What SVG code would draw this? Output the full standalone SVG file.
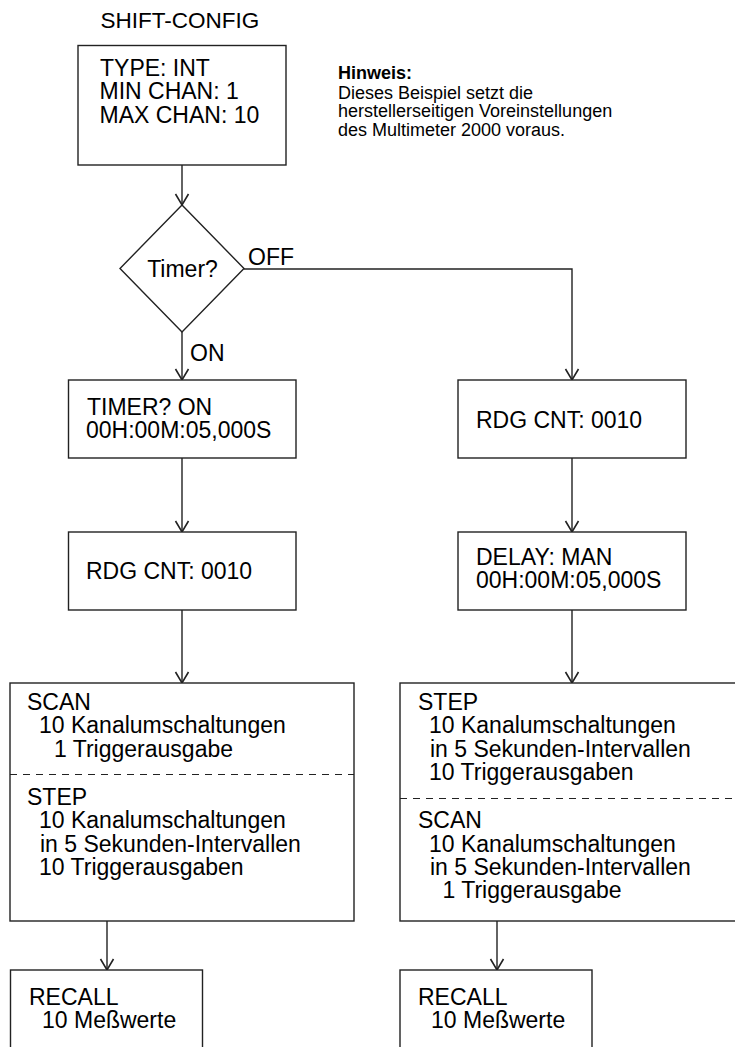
<svg xmlns="http://www.w3.org/2000/svg" width="735" height="1047" viewBox="0 0 735 1047">
<style>
text{font-family:"Liberation Sans",Arial,Helvetica,sans-serif;font-size:23px;fill:#000}
.sm{font-size:18px}
.b{font-weight:bold}
.box{fill:#fff;stroke:#222;stroke-width:1.4}
.ln{fill:none;stroke:#222;stroke-width:1.4}
.dash{fill:none;stroke:#222;stroke-width:1.2;stroke-dasharray:7 6}
</style>
<defs>
<marker id="ah" markerUnits="userSpaceOnUse" markerWidth="16" markerHeight="16" viewBox="-13 -8 16 16" refX="0" refY="0" orient="auto">
<path d="M-11,-6.5 L0,0 L-11,6.5" fill="none" stroke="#222" stroke-width="1.6"/>
</marker>
</defs>
<rect width="735" height="1047" fill="#fff"/>
<g id="connectors">
<path class="ln" d="M182,165 V205" marker-end="url(#ah)"/>
<path class="ln" d="M182,332 V380" marker-end="url(#ah)"/>
<path class="ln" d="M244,269 H572 V380" marker-end="url(#ah)"/>
<path class="ln" d="M182,458 V532" marker-end="url(#ah)"/>
<path class="ln" d="M182,610 V683" marker-end="url(#ah)"/>
<path class="ln" d="M572,458 V532" marker-end="url(#ah)"/>
<path class="ln" d="M572,610 V683" marker-end="url(#ah)"/>
<path class="ln" d="M107,921 V970" marker-end="url(#ah)"/>
<path class="ln" d="M497,921 V970" marker-end="url(#ah)"/>
</g>
<g id="title"><text x="100.5" y="28" style="font-size:22.5px">SHIFT-CONFIG</text></g>
<g id="config">
<rect class="box" x="78" y="45.5" width="208" height="119.5"/>
<text x="100" y="76">TYPE: INT</text>
<text x="99.5" y="99.3">MIN CHAN: 1</text>
<text x="99.5" y="122.6">MAX CHAN: 10</text>
</g>
<g id="note">
<text class="sm b" x="338" y="79">Hinweis:</text>
<text class="sm" x="338" y="98.5">Dieses Beispiel setzt die</text>
<text class="sm" x="338" y="117">herstellerseitigen Voreinstellungen</text>
<text class="sm" x="338" y="135.5">des Multimeter 2000 voraus.</text>
</g>
<g id="timer-decision">
<polygon class="box" points="182,205 244,268.5 182,332 120,268.5"/>
<text x="182.5" y="277.3" text-anchor="middle">Timer?</text>
</g>
<g id="labels">
<text x="248" y="265">OFF</text>
<text x="190" y="360.7">ON</text>
</g>
<g id="timer-on">
<rect class="box" x="68.5" y="380" width="227.5" height="78"/>
<text x="87" y="415">TIMER? ON</text>
<text x="86" y="438.3">00H:00M:05,000S</text>
</g>
<g id="rdg-left">
<rect class="box" x="68.5" y="532" width="227.5" height="78"/>
<text x="86" y="579">RDG CNT: 0010</text>
</g>
<g id="rdg-right">
<rect class="box" x="458" y="380" width="228" height="78"/>
<text x="476" y="428">RDG CNT: 0010</text>
</g>
<g id="delay">
<rect class="box" x="458" y="532" width="228" height="78"/>
<text x="476" y="565">DELAY: MAN</text>
<text x="476" y="588.3">00H:00M:05,000S</text>
</g>
<g id="scan-step-left">
<rect class="box" x="10" y="683" width="344" height="238"/>
<path class="dash" d="M10,774.5 H354"/>
<text x="27" y="710">SCAN</text>
<text x="39" y="733.3">10 Kanalumschaltungen</text>
<text x="54" y="756.6">1 Triggerausgabe</text>
<text x="27" y="805">STEP</text>
<text x="39" y="828.3">10 Kanalumschaltungen</text>
<text x="40" y="851.6">in 5 Sekunden-Intervallen</text>
<text x="39" y="875">10 Triggerausgaben</text>
</g>
<g id="step-scan-right">
<rect class="box" x="400" y="683" width="345" height="238"/>
<path class="dash" d="M400,798.5 H735"/>
<text x="418" y="710">STEP</text>
<text x="429" y="733.3">10 Kanalumschaltungen</text>
<text x="430" y="756.6">in 5 Sekunden-Intervallen</text>
<text x="429" y="780">10 Triggerausgaben</text>
<text x="418" y="828.3">SCAN</text>
<text x="429" y="851.6">10 Kanalumschaltungen</text>
<text x="430" y="875">in 5 Sekunden-Intervallen</text>
<text x="442.5" y="898.3">1 Triggerausgabe</text>
</g>
<g id="recall-left">
<rect class="box" x="10.5" y="970" width="192" height="100"/>
<text x="29" y="1005">RECALL</text>
<text x="42" y="1028.3">10 Meßwerte</text>
</g>
<g id="recall-right">
<rect class="box" x="400" y="970" width="192" height="100"/>
<text x="418" y="1005">RECALL</text>
<text x="431" y="1028.3">10 Meßwerte</text>
</g>
</svg>
